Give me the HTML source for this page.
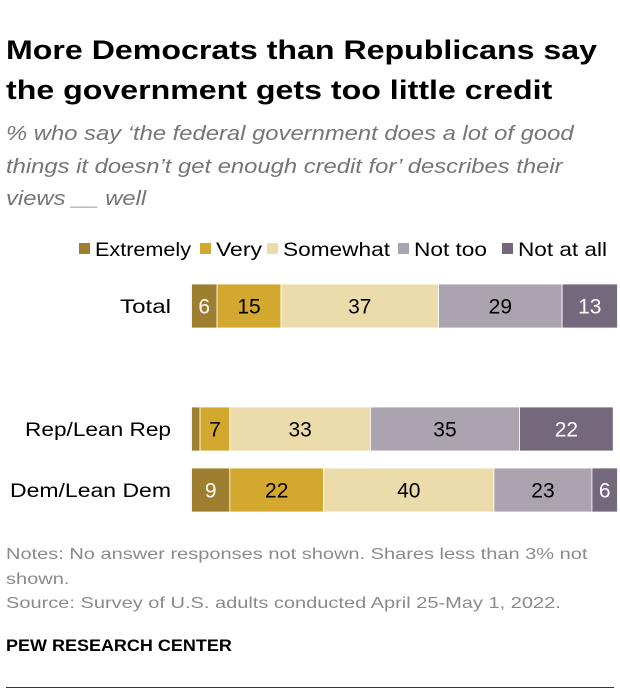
<!DOCTYPE html>
<html><head><meta charset="utf-8"><style>
body{margin:0;background:#fff;font-family:"Liberation Sans",sans-serif;}
#wrap{position:relative;width:620px;height:696px;overflow:hidden;}
.t{position:absolute;white-space:nowrap;transform-origin:0 0;}
</style></head><body>
<div id="wrap">
<div class="t" style="left:6px;top:30px;font-size:27px;font-weight:bold;line-height:40px;color:#000;transform:scaleX(1.19)">More Democrats than Republicans say<br>the government gets too little credit</div>
<div class="t" style="left:6px;top:118px;font-size:20px;font-style:italic;line-height:32.5px;color:#757575;transform:scaleX(1.19)">% who say ‘the federal government does a lot of good<br>things it doesn’t get enough credit for’ describes their<br>views __ well</div>
<svg id="chart" width="620" height="696" style="position:absolute;left:0;top:0"></svg>
<div class="t" style="left:6px;top:543px;font-size:16px;line-height:24.5px;color:#8a8a8a;transform:scaleX(1.25)">Notes: No answer responses not shown. Shares less than 3% not<br>shown.<br>Source: Survey of U.S. adults conducted April 25-May 1, 2022.</div>
<div class="t" style="left:6px;top:637px;font-size:16.5px;font-weight:bold;color:#000;transform:scaleX(1.09)">PEW RESEARCH CENTER</div>
<div style="position:absolute;left:6px;top:687px;width:608px;height:1px;background:#333"></div>
</div>
<script>
const categories=["Total","Rep/Lean Rep","Dem/Lean Dem"];
const seriesNames=["Extremely","Very","Somewhat","Not too","Not at all"];
const extremely=[6,2,9];
const very=[15,7,22];
const somewhat=[37,33,40];
const notToo=[29,35,23];
const notAtAll=[13,22,6];
const colors=["#9e7f2f","#d3a82f","#ecdcab","#aba3ae","#74697c"];
const textColors=["#fff","#000","#000","#000","#fff"];
const series=[extremely,very,somewhat,notToo,notAtAll];
const svg=document.getElementById('chart');
const NS="http://www.w3.org/2000/svg";
const x0=191.5,scale=4.26,barH=44;
const rowY=[284,407,468];
const catW=[51,146,161];
function xs(v){return v*scale;}
categories.forEach((c,i)=>{
  const lab=document.createElementNS(NS,'text');
  
  
  lab.setAttribute('x',171);lab.setAttribute('y',rowY[i]+barH/2+7);
  lab.setAttribute('text-anchor','end');lab.setAttribute('font-size','19.5');
  lab.setAttribute('textLength',catW[i]);lab.setAttribute('lengthAdjust','spacingAndGlyphs');
  lab.setAttribute('font-family','Liberation Sans, sans-serif');
  lab.textContent=c;svg.appendChild(lab);
  let cx=x0;
  series.forEach((s,j)=>{
    const v=s[i],w=xs(v);
    const r=document.createElementNS(NS,'rect');
    
    
    r.setAttribute('x',cx);r.setAttribute('y',rowY[i]);r.setAttribute('width',w);r.setAttribute('height',barH);
    r.setAttribute('fill',colors[j]);r.setAttribute('stroke','#fff');r.setAttribute('stroke-width','0.8');
    svg.appendChild(r);
    if(v>=3){
      const t=document.createElementNS(NS,'text');
      
      
      t.setAttribute('x',cx+w/2);t.setAttribute('y',rowY[i]+barH/2+7.5);
      t.setAttribute('text-anchor','middle');t.setAttribute('font-size','21');
      t.setAttribute('font-family','Liberation Sans, sans-serif');t.setAttribute('fill',textColors[j]);
      t.textContent=v;svg.appendChild(t);
    }
    cx+=w;
  });
});
const legX=[79,200,267,398,502];
const legW=[96,46,107,73,89];
seriesNames.forEach((n,j)=>{
  const r=document.createElementNS(NS,'rect');
  
  
  r.setAttribute('x',legX[j]);r.setAttribute('y',243);r.setAttribute('width',11);r.setAttribute('height',11);
  r.setAttribute('fill',colors[j]);svg.appendChild(r);
  const t=document.createElementNS(NS,'text');
  
  
  t.setAttribute('x',legX[j]+16);t.setAttribute('y',256);t.setAttribute('font-size','19.5');
  t.setAttribute('textLength',legW[j]);t.setAttribute('lengthAdjust','spacingAndGlyphs');
  t.setAttribute('font-family','Liberation Sans, sans-serif');
  t.textContent=n;svg.appendChild(t);
});
</script>
</body></html>
